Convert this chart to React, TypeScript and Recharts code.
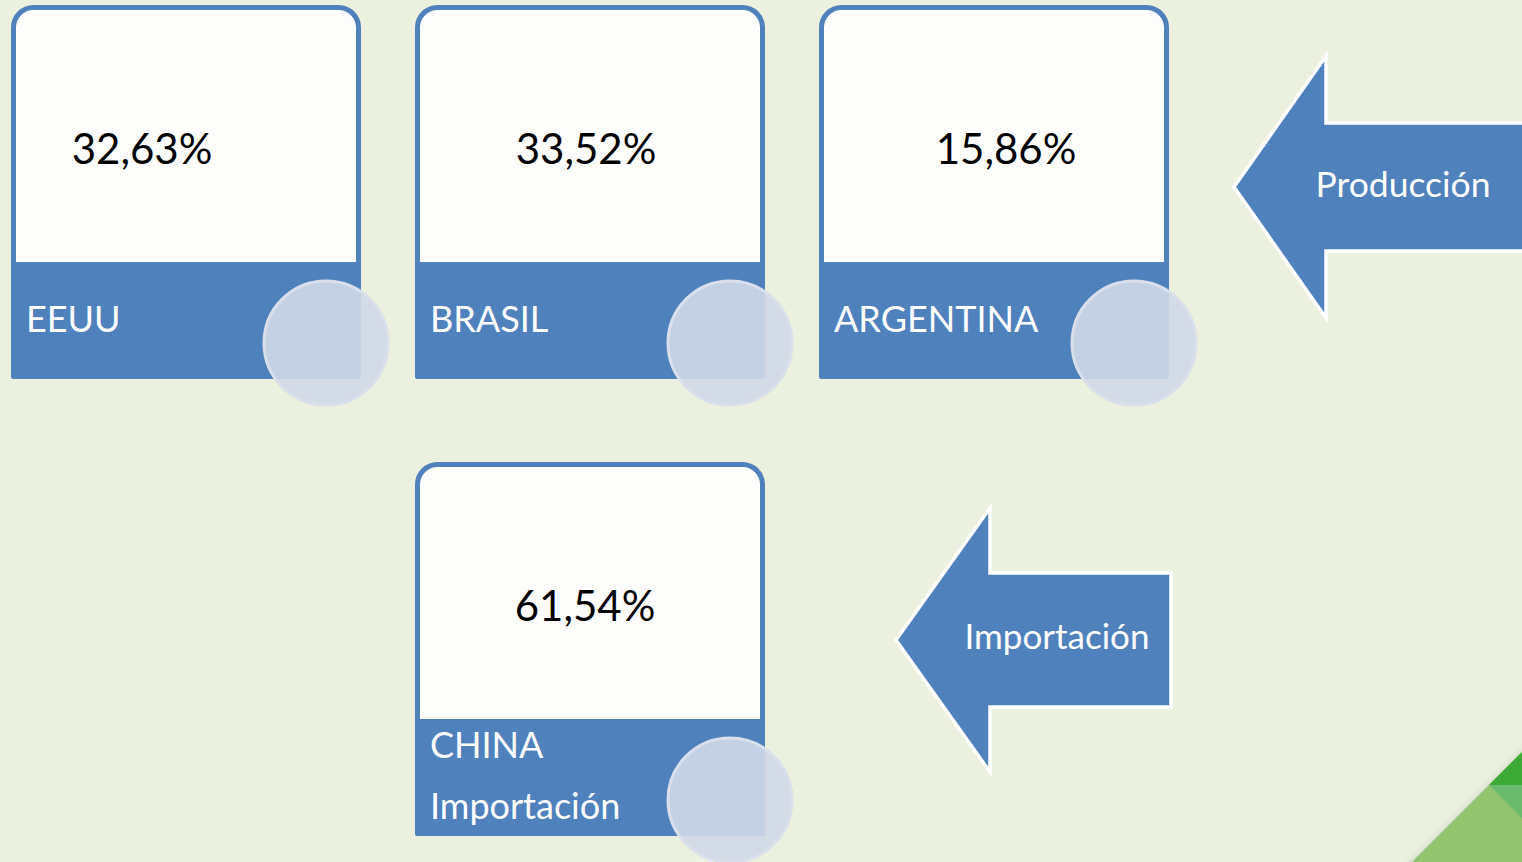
import React from "react";
import { ScatterChart, Scatter, XAxis, YAxis, Customized } from "recharts";

// ---- data ----
const countries = ["EEUU", "BRASIL", "ARGENTINA", "CHINA"];
const shares = ["32,63%", "33,52%", "15,86%", "61,54%"];
const subLabels = ["", "", "", "Importación"];
const arrowLabels = ["Producción", "Importación"];

// ---- layout (grid slots for each card) ----
const cardCol = [0, 1, 2, 1];
const cardRow = [0, 0, 0, 1];
const valueShift = [-44, -4, 12, -5];

const W = 1522;
const H = 862;
const ORIGIN_X = 186;
const ORIGIN_Y = 5;
const COL_PX = 404;
const ROW_PX = 457;

const BG = "#EBF1DE";
const BLUE = "#4F81BD";
const FONT = "Lato, 'Open Sans', sans-serif";

const cards = countries.map((c, i) => ({
  country: c,
  share: shares[i],
  sub: subLabels[i],
  col: cardCol[i],
  row: cardRow[i],
  shift: valueShift[i],
}));

const CardShape = (props: any) => {
  const { cx, cy, payload } = props;
  const L = cx - 175;
  const R = cx + 175;
  const T = cy;
  const bandTop = T + 257;
  const B = T + 374;
  const sw = 5;
  const l = L + sw / 2;
  const r = R - sw / 2;
  const t = T + sw / 2;
  const rad = 20;
  const d = `M ${l} ${bandTop + 4} L ${l} ${t + rad} A ${rad} ${rad} 0 0 1 ${l + rad} ${t} L ${r - rad} ${t} A ${rad} ${rad} 0 0 1 ${r} ${t + rad} L ${r} ${bandTop + 4} Z`;
  const twoLines = !!payload.sub;
  const labelSize = 36;
  return (
    <g>
      <path d={d} fill="#FDFDFB" stroke={BLUE} strokeWidth={sw} />
      <rect x={L} y={bandTop} width={R - L} height={B - bandTop} rx={2} fill={BLUE} />
      <text
        x={cx + payload.shift}
        y={T + 159}
        textAnchor="middle"
        fontFamily={FONT}
        fontSize={42}
        fill="#000"
      >
        {payload.share}
      </text>
      {twoLines ? (
        <>
          <text x={L + 15} y={T + 296} fontFamily={FONT} fontSize={labelSize} fill="#fff">
            {payload.country}
          </text>
          <text x={L + 15} y={T + 357} fontFamily={FONT} fontSize={labelSize} fill="#fff">
            {payload.sub}
          </text>
        </>
      ) : (
        <text x={L + 15} y={T + 327} fontFamily={FONT} fontSize={labelSize} fill="#fff">
          {payload.country}
        </text>
      )}
      <circle
        cx={cx + 140}
        cy={T + 338}
        r={62}
        fill="rgb(208,216,231)"
        fillOpacity={0.9}
        stroke="#D9E0EC"
        strokeWidth={3}
      />
    </g>
  );
};

const arrowShape = (tipX: number, tipY: number, neckX: number, endX: number, headHalf: number, shaftHalf: number) =>
  `${tipX},${tipY} ${neckX},${tipY - headHalf} ${neckX},${tipY - shaftHalf} ${endX},${tipY - shaftHalf} ${endX},${tipY + shaftHalf} ${neckX},${tipY + shaftHalf} ${neckX},${tipY + headHalf}`;

const Decor = () => (
  <g>
    <defs>
      <filter id="blurShadow" x="-20%" y="-20%" width="140%" height="140%">
        <feGaussianBlur stdDeviation="3" />
      </filter>
    </defs>
    {/* Producción arrow */}
    <polygon
      points={arrowShape(1234, 187, 1326, 1530, 131, 64)}
      fill={BLUE}
      stroke="#FFFFFF"
      strokeWidth={3.5}
      strokeLinejoin="miter"
    />
    <text x={1403} y={197} textAnchor="middle" fontFamily={FONT} fontSize={35.5} fill="#fff">
      {arrowLabels[0]}
    </text>
    {/* Importación arrow */}
    <polygon
      points={arrowShape(896, 640, 990, 1171, 132, 67)}
      fill={BLUE}
      stroke="#FFFFFF"
      strokeWidth={3.5}
      strokeLinejoin="miter"
    />
    <text x={1057} y={649} textAnchor="middle" fontFamily={FONT} fontSize={35} fill="#fff">
      {arrowLabels[1]}
    </text>
    {/* corner decoration */}
    <polygon points="1408,866 1526,748 1526,866" fill="#999" opacity={0.45} filter="url(#blurShadow)" />
    <polygon points="1412,862 1522,752 1522,862" fill="#92C46F" />
    <polygon points="1522,752 1489,785 1522,785" fill="#3DAA38" />
    <polygon points="1489,785 1522,785 1522,818" fill="#6BBB6F" />
  </g>
);

export default function App() {
  return (
    <div style={{ position: "absolute", left: 0, top: 0, width: W, height: H, background: BG }}>
      <ScatterChart width={W} height={H} margin={{ top: 0, right: 0, bottom: 0, left: 0 }}>
        <XAxis
          type="number"
          dataKey="col"
          domain={[-ORIGIN_X / COL_PX, (W - ORIGIN_X) / COL_PX]}
          allowDataOverflow
          hide
        />
        <YAxis
          type="number"
          dataKey="row"
          domain={[-ORIGIN_Y / ROW_PX, (H - ORIGIN_Y) / ROW_PX]}
          reversed
          allowDataOverflow
          hide
        />
        <Customized component={Decor} />
        <Scatter data={cards} shape={CardShape} isAnimationActive={false} />
      </ScatterChart>
    </div>
  );
}
